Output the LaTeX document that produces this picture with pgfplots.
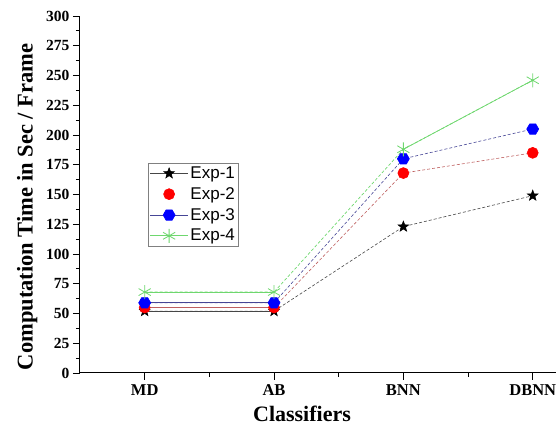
\documentclass[border=0pt]{standalone}
\usepackage{fontspec}
\setmainfont{Liberation Serif}
\newfontfamily\arialfont{Liberation Sans}
\usepackage{pgfplots}
\pgfplotsset{compat=1.18}

\pgfdeclareplotmark{fstar}{%
  \pgfpathmoveto{\pgfpointpolar{90}{\pgfplotmarksize}}%
  \pgfpathlineto{\pgfpointpolar{126}{0.42\pgfplotmarksize}}%
  \pgfpathlineto{\pgfpointpolar{162}{\pgfplotmarksize}}%
  \pgfpathlineto{\pgfpointpolar{198}{0.42\pgfplotmarksize}}%
  \pgfpathlineto{\pgfpointpolar{234}{\pgfplotmarksize}}%
  \pgfpathlineto{\pgfpointpolar{270}{0.42\pgfplotmarksize}}%
  \pgfpathlineto{\pgfpointpolar{306}{\pgfplotmarksize}}%
  \pgfpathlineto{\pgfpointpolar{342}{0.42\pgfplotmarksize}}%
  \pgfpathlineto{\pgfpointpolar{18}{\pgfplotmarksize}}%
  \pgfpathlineto{\pgfpointpolar{54}{0.42\pgfplotmarksize}}%
  \pgfpathclose\pgfusepathqfillstroke}
\pgfdeclareplotmark{hexa}{%
  \pgfpathmoveto{\pgfpointpolar{0}{\pgfplotmarksize}}%
  \pgfpathlineto{\pgfpointpolar{60}{\pgfplotmarksize}}%
  \pgfpathlineto{\pgfpointpolar{120}{\pgfplotmarksize}}%
  \pgfpathlineto{\pgfpointpolar{180}{\pgfplotmarksize}}%
  \pgfpathlineto{\pgfpointpolar{240}{\pgfplotmarksize}}%
  \pgfpathlineto{\pgfpointpolar{300}{\pgfplotmarksize}}%
  \pgfpathclose\pgfusepathqfillstroke}

\pgfplotsset{
  linelegend/.style={legend image code/.code={\draw[solid,mark repeat=2,mark phase=2,##1] plot coordinates {(0pt,0pt) (19pt,0pt) (38pt,0pt)};}},
  marklegend/.style={legend image code/.code={\draw[mark repeat=2,mark phase=2,##1,only marks] plot coordinates {(0pt,0pt) (19pt,0pt) (38pt,0pt)};}},
}

\definecolor{expone}{RGB}{70,70,70}
\definecolor{exptwo}{RGB}{255,0,0}
\definecolor{exptwol}{RGB}{190,95,95}
\definecolor{expthree}{RGB}{0,0,255}
\definecolor{expthreel}{RGB}{70,70,150}
\definecolor{expfour}{RGB}{110,215,110}

\begin{document}
\begin{tikzpicture}[x=1pt,y=1pt]
\useasboundingbox (-80,-57) rectangle (480,373);
\begin{axis}[
  at={(0,0)}, anchor=south west, scale only axis,
  width=476pt, height=357pt,
  xmin=-0.5, xmax=3.18, ymin=0, ymax=300,
  axis x line=bottom, axis y line=left,
  axis line style={-, line width=1pt},
  xtick={0,1,2,3}, xticklabels={MD,AB,BNN,DBNN},
  minor xtick={0.5,1.5,2.5},
  ytick={0,25,...,300}, minor ytick={12.5,37.5,...,287.5},
  tick align=outside, major tick length=7pt, minor tick length=4pt,
  tick style={black, line width=0.8pt},
  xticklabel style={font=\fontsize{16.5}{18}\selectfont\bfseries, yshift=-1pt},
  yticklabel style={font=\fontsize{15.5}{17}\selectfont\bfseries},
  /pgf/number format/assume math mode=true,
  xlabel={Classifiers}, ylabel={Computation Time in Sec / Frame},
  xlabel style={font=\fontsize{22}{24}\selectfont\bfseries, xshift=-16pt, yshift=-4pt},
  ylabel style={font=\fontsize{22.5}{24}\selectfont\bfseries, at={(ticklabel cs:0.465)}, yshift=2pt},
  legend style={at={(0.143,0.588)}, anchor=north west, draw=gray,
    font=\arialfont\fontsize{17}{20}\selectfont, inner sep=1.5pt,
    nodes={inner sep=2pt}, row sep=3.5pt},
  legend cell align=left,
  linelegend,
]
% Exp-1
\addplot[expone, line width=0.6pt, forget plot] coordinates {(0,52) (1,52)};
\addplot[expone, densely dashed, line width=0.6pt, mark=fstar, mark size=5.5pt,
  mark options={solid, fill=black, draw=black}] coordinates {(0,52) (1,52) (2,123) (3,149)};
\addlegendentry{Exp-1}
% Exp-2
\addplot[exptwol, line width=0.6pt, forget plot] coordinates {(0,55) (1,55)};
\addplot[exptwol, densely dashed, line width=0.6pt, mark=*, mark size=5.5pt,
  mark options={solid, fill=exptwo, draw=exptwo}, marklegend]
  coordinates {(0,55) (1,55) (2,168) (3,185)};
\addlegendentry{Exp-2}
% Exp-3
\addplot[expthreel, line width=0.6pt, forget plot] coordinates {(0,59) (1,59)};
\addplot[expthreel, densely dashed, line width=0.6pt, mark=hexa, mark size=6pt,
  mark options={solid, fill=expthree, draw=expthree}] coordinates {(0,59) (1,59) (2,180) (3,205)};
\addlegendentry{Exp-3}
% Exp-4
\addplot[expfour, line width=0.7pt, forget plot] coordinates {(0,68) (1,68)};
\addplot[expfour, line width=0.7pt, forget plot] coordinates {(2,188) (3,246)};
\addplot[expfour, densely dashed, line width=0.7pt, mark=asterisk, mark size=7pt,
  mark options={solid, draw=expfour, line width=0.8pt}] coordinates {(0,68) (1,68) (2,188) (3,246)};
\addlegendentry{Exp-4}
\end{axis}
\end{tikzpicture}
\end{document}
